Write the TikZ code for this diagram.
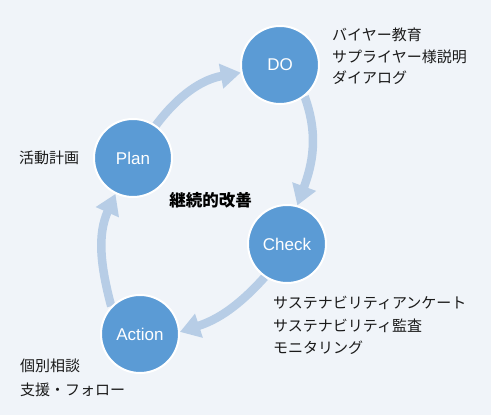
\documentclass[tikz,border=0pt]{standalone}
\usepackage{fontspec}
\setmainfont{Liberation Sans}
\newfontfamily\jp{Noto Sans CJK JP}
\usetikzlibrary{arrows.meta}
\definecolor{bgc}{HTML}{F0F4F9}
\definecolor{circ}{HTML}{5B9BD5}
\definecolor{arr}{HTML}{B7CDE6}
\definecolor{txt}{HTML}{1A1A1A}
\pgfdeclarelayer{bglayer}
\pgfdeclarelayer{midlayer}
\pgfsetlayers{bglayer,midlayer,main}
\begin{document}
\begin{tikzpicture}[x=1pt,y=1pt,
  phase/.style={circle, fill=circ, draw=white, line width=2pt, minimum size=78pt, inner sep=0pt, text=white, font=\fontsize{17}{20}\selectfont},
  cyc/.style={draw=arr, line width=8.5pt, -{Triangle[width=24pt,length=20pt]}},
  note/.style={anchor=base west, inner sep=0pt, text=txt, font=\jp\fontsize{15}{17}\selectfont},
  title/.style={anchor=base, inner sep=0pt, text=black, font=\jp\bfseries\fontsize{16.5}{19}\selectfont}]
\begin{pgfonlayer}{bglayer}
\fill[bgc] (0,0) rectangle (491,415);
\end{pgfonlayer}
\useasboundingbox (0,0) rectangle (491,415);
\node[phase] (plan) at (133,257) {Plan};
\node[phase] (do) at (280,350) {DO};
\node[phase] (check) at (287,171) {Check};
\node[phase] (action) at (140,81) {Action};
\begin{pgfonlayer}{midlayer}
\draw[cyc] (plan.55) to[out=53,in=190] (do.191);
\draw[cyc] (do.-52) to[out=-70,in=70] (check.75);
\draw[cyc] (check.236) to[out=228,in=18] (action.3);
\draw[cyc] (action.136) to[out=105,in=246] (plan.244);
\end{pgfonlayer}
\node[title] (kaizen) at (210.5,208.7) {継続的改善};
\node[note] (plannote) at (19,251.5) {活動計画};
\node[note] (do1) at (332,374.5) {バイヤー教育};
\node[note] (do2) at (332,352.5) {サプライヤー様説明};
\node[note] (do3) at (332,331.5) {ダイアログ};
\node[note] (ch1) at (273,106.5) {サステナビリティアンケート};
\node[note] (ch2) at (273,83.5) {サステナビリティ監査};
\node[note] (ch3) at (273,61.5) {モニタリング};
\node[note] (ac1) at (20,43.5) {個別相談};
\node[note] (ac2) at (20,19.5) {支援・フォロー};
\end{tikzpicture}
\end{document}
